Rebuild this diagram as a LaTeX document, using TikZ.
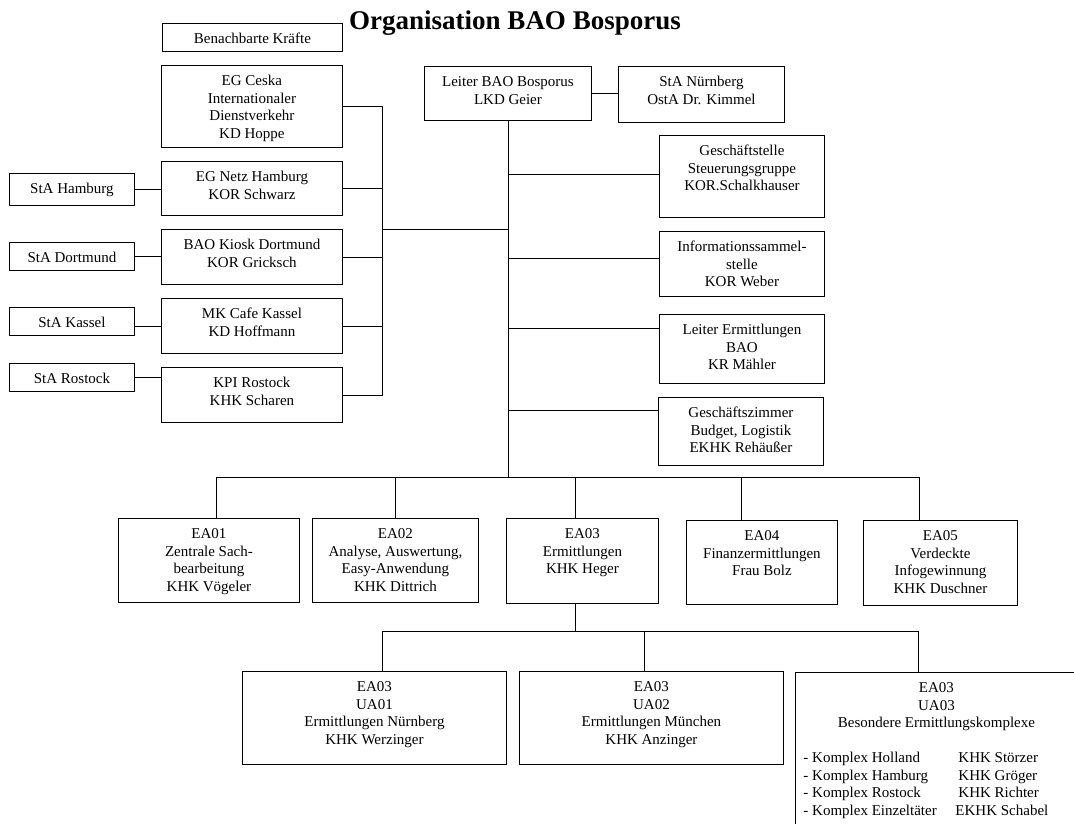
\documentclass[tikz,border=0pt]{standalone}
\usepackage{fontspec}
\setmainfont{Liberation Serif}
\newcommand{\boxtext}[3]{\parbox[t][#2][t]{#1}{\centering\vspace*{8pt}\strut#3}}
\tikzset{orgbox/.style={draw, anchor=north west, inner sep=0pt, font=\fontsize{15}{17.5}\selectfont}}
\begin{document}
\begin{tikzpicture}[x=1pt,y=-1pt,line width=0.9pt]
\useasboundingbox[fill=white] (0,0) rectangle (1074,823);
\clip (0,0) rectangle (1074,823);
\node[anchor=base,font=\fontsize{27}{30}\selectfont\bfseries] (title) at (515,29) {Organisation BAO Bosporus};
\node[orgbox] (bk) at (162,23) {\boxtext{180pt}{28pt}{Benachbarte Kräfte}};
\node[orgbox] (egceska) at (161,65) {\boxtext{181pt}{82pt}{EG Ceska\\Internationaler\\Dienstverkehr\\KD Hoppe}};
\node[orgbox] (egnetz) at (161,161) {\boxtext{181pt}{54pt}{EG Netz Hamburg\\KOR Schwarz}};
\node[orgbox] (kiosk) at (161,229) {\boxtext{181pt}{55pt}{BAO Kiosk Dortmund\\KOR Gricksch}};
\node[orgbox] (cafe) at (161,298) {\boxtext{181pt}{55pt}{MK Cafe Kassel\\KD Hoffmann}};
\node[orgbox] (kpi) at (161,367) {\boxtext{181pt}{55pt}{KPI Rostock\\KHK Scharen}};
\node[orgbox] (staham) at (9,173) {\boxtext{125pt}{32pt}{StA Hamburg}};
\node[orgbox] (stador) at (9,242) {\boxtext{125pt}{28pt}{StA Dortmund}};
\node[orgbox] (stakas) at (9,307) {\boxtext{125pt}{28pt}{StA Kassel}};
\node[orgbox] (starost) at (9,363) {\boxtext{125pt}{28pt}{StA Rostock}};
\node[orgbox] (leiter) at (424,66) {\boxtext{167pt}{54pt}{Leiter BAO Bosporus\\LKD Geier}};
\node[orgbox] (stanb) at (618,66) {\boxtext{166pt}{56pt}{StA Nürnberg\\OstA Dr. Kimmel}};
\node[orgbox] (gst) at (659,135) {\boxtext{165pt}{82pt}{Geschäftstelle\\Steuerungsgruppe\\KOR.Schalkhauser}};
\node[orgbox] (info) at (659,231) {\boxtext{165pt}{65pt}{Informationssammel-\\stelle\\KOR Weber}};
\node[orgbox] (ler) at (659,314) {\boxtext{165pt}{69pt}{Leiter Ermittlungen\\BAO\\KR Mähler}};
\node[orgbox] (gsz) at (658,397) {\boxtext{165pt}{68pt}{Geschäftszimmer\\Budget, Logistik\\EKHK Rehäußer}};
\node[orgbox] (ea01) at (118,518) {\boxtext{181pt}{84pt}{EA01\\Zentrale Sach-\\bearbeitung\\KHK Vögeler}};
\node[orgbox] (ea02) at (312,518) {\boxtext{166pt}{84pt}{EA02\\Analyse, Auswertung,\\Easy-Anwendung\\KHK Dittrich}};
\node[orgbox] (ea03) at (506,518) {\boxtext{152pt}{85pt}{EA03\\Ermittlungen\\KHK Heger}};
\node[orgbox] (ea04) at (686,520) {\boxtext{151pt}{84pt}{EA04\\Finanzermittlungen\\Frau Bolz}};
\node[orgbox] (ea05) at (863,520) {\boxtext{154pt}{85pt}{EA05\\Verdeckte\\Infogewinnung\\KHK Duschner}};
\node[orgbox] (ua01) at (242,671) {\boxtext{264pt}{93pt}{EA03\\UA01\\Ermittlungen Nürnberg\\KHK Werzinger}};
\node[orgbox] (ua02) at (519,671) {\boxtext{264pt}{93pt}{EA03\\UA02\\Ermittlungen München\\KHK Anzinger}};
\node[orgbox] (ua03) at (795,672) {\boxtext{282pt}{200pt}{EA03\\UA03\\Besondere Ermittlungskomplexe\par\vspace{17.5pt}\raggedright\leftskip=8pt
\makebox[155pt][l]{- Komplex Holland}KHK Störzer\\
\makebox[155pt][l]{- Komplex Hamburg}KHK Gröger\\
\makebox[155pt][l]{- Komplex Rostock}KHK Richter\\
\makebox[152pt][l]{- Komplex Einzeltäter}EKHK Schabel}};
\draw (leiter.east) -- (leiter.east -| stanb.west);
\coordinate (lb) at (382,229);
\draw (egceska.east) -- (egceska.east -| lb) -- (kpi.east -| lb) -- (kpi.east);
\foreach \n in {egnetz,kiosk,cafe} \draw (\n.east) -- (\n.east -| lb);
\draw (lb) -- (lb -| leiter.south);
\draw (staham.east) -- (staham.east -| egnetz.west);
\draw (stador.east) -- (stador.east -| kiosk.west);
\draw (stakas.east |- cafe.west) -- (cafe.west);
\draw (starost.east) -- (starost.east -| kpi.west);
\foreach \n/\d in {gst/39,info/27,ler/14,gsz/13} {
  \coordinate (\n-in) at ([yshift=-\d pt]\n.north west);
  \draw (\n-in) -- (\n-in -| leiter.south);
}
\foreach \n/\x in {ea01/216,ea02/395,ea03/575,ea04/741,ea05/919} {
  \coordinate (\n-top) at (\x,477);
  \draw (\n-top) -- (\n-top |- \n.north);
}
\draw (ea01-top) -- (ea05-top);
\draw (leiter.south) -- (leiter.south |- ea01-top);
\foreach \n/\x in {ua01/382,ua02/644,ua03/918} {
  \coordinate (\n-top) at (\x,631);
  \draw (\n-top) -- (\n-top |- \n.north);
}
\draw (ua01-top) -- (ua03-top);
\draw (ea03-top |- ea03.south) -- (ea03-top |- ua01-top);
\end{tikzpicture}
\end{document}
